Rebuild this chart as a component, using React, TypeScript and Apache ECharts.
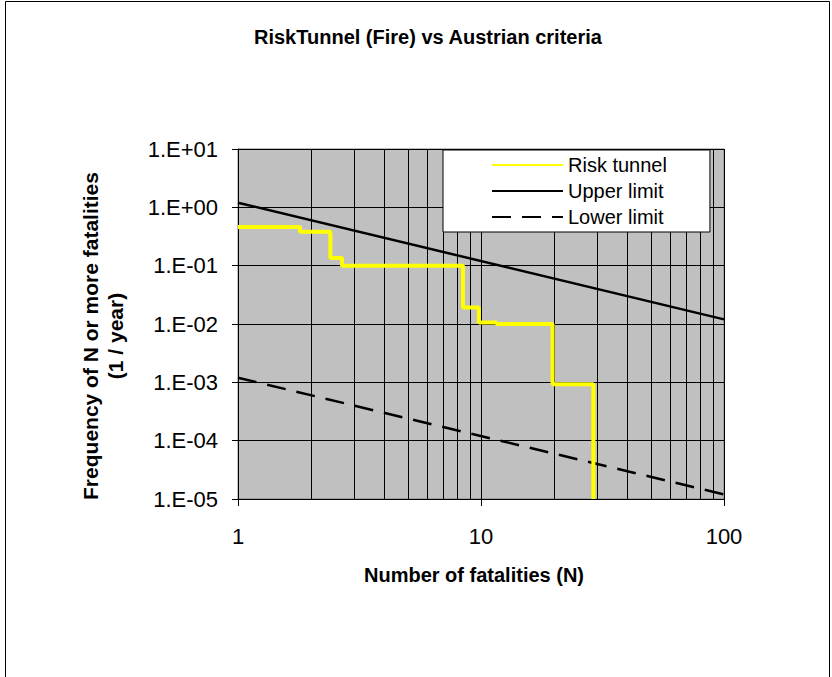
import React, { useEffect, useRef } from "react";
import * as echarts from "echarts";

const titleText = "RiskTunnel (Fire) vs Austrian criteria";
const xAxisName = "Number of fatalities (N)";
const yAxisName = "Frequency of N or more fatalities\n(1 / year)";

const seriesNames = ["Risk tunnel", "Upper limit", "Lower limit"];

// Risk tunnel F-N step curve
const riskN = [1, 1.8, 2.4, 2.68, 8.43, 9.8, 11.6, 19.7, 29];
const riskF = [0.46, 0.38, 0.135, 0.1, 0.0192, 0.0106, 0.01, 0.00093, 0.00001];

// Criteria lines
const limitN = [1, 100];
const upperF = [1.2, 0.012];
const lowerF = [0.0012, 0.000012];

// Minor vertical gridlines
const minorGridN = [2, 3, 4, 5, 6, 7, 8, 9, 20, 30, 40, 50, 60, 70, 80, 90];

const FONT = "'Liberation Sans', Arial, sans-serif";

function fmtExp(v: number): string {
  const e = Math.round(Math.log10(v));
  return "1.E" + (e >= 0 ? "+" : "-") + String(Math.abs(e)).padStart(2, "0");
}

export default function App() {
  const ref = useRef<HTMLDivElement>(null);

  useEffect(() => {
    if (!ref.current) return;
    const chart = echarts.init(ref.current, undefined, { renderer: "svg" });

    const riskData = riskN.map((n, i) => [n, riskF[i]]);
    const upperData = limitN.map((n, i) => [n, upperF[i]]);
    const lowerData = limitN.map((n, i) => [n, lowerF[i]]);

    chart.setOption({
      animation: false,
      backgroundColor: "#ffffff",
      textStyle: { fontFamily: FONT },
      title: {
        text: titleText,
        left: 254,
        top: 27,
        padding: 0,
        textStyle: { fontSize: 20, fontWeight: "bold", color: "#000", fontFamily: FONT },
      },
      graphic: [
        {
          type: "rect",
          shape: { x: 5.5, y: 1.5, width: 824, height: 720 },
          style: { fill: "none", stroke: "#000", lineWidth: 1 },
          silent: true,
          z: 0,
        },
      ],
      legend: {
        data: seriesNames,
        orient: "vertical",
        left: 443,
        top: 150,
        padding: [5, 43, 5, 48],
        itemWidth: 71,
        itemHeight: 20,
        itemGap: 6,
        z: 10,
        backgroundColor: "#ffffff",
        borderColor: "#000",
        borderWidth: 1,
        borderRadius: 0,
        itemStyle: { opacity: 0 },
        textStyle: { fontSize: 20, color: "#000", fontFamily: FONT, lineHeight: 20 },
      },
      grid: {
        left: 238,
        right: 108,
        top: 149,
        bottom: 178,
        show: true,
        backgroundColor: "#C0C0C0",
        borderColor: "#808080",
        borderWidth: 1,
        containLabel: false,
      },
      xAxis: {
        type: "log",
        logBase: 10,
        min: 1,
        max: 100,
        name: xAxisName,
        nameLocation: "middle",
        nameGap: 66,
        nameTextStyle: { fontSize: 20, fontWeight: "bold", color: "#000", padding: [0, 14, 0, 0] },
        axisLine: { show: true, lineStyle: { color: "#000", width: 1 } },
        axisTick: { show: true, inside: false, length: 7, lineStyle: { color: "#000" } },
        axisLabel: { fontSize: 22, color: "#000", margin: 26 },
        splitLine: { show: true, lineStyle: { color: "#000", width: 1 } },
        minorTick: { show: false },
        minorSplitLine: { show: false },
      },
      yAxis: {
        type: "log",
        logBase: 10,
        min: 0.00001,
        max: 10,
        splitNumber: 6,
        name: yAxisName,
        nameLocation: "middle",
        nameRotate: 90,
        nameGap: 110,
        nameTextStyle: {
          fontSize: 21,
          fontWeight: "bold",
          color: "#000",
          lineHeight: 25,
          align: "center",
          padding: [0, 24, 0, 0],
        },
        axisLine: { show: true, lineStyle: { color: "#000", width: 1 } },
        axisTick: { show: true, inside: false, length: 6, lineStyle: { color: "#000" } },
        axisLabel: { fontSize: 22, color: "#000", margin: 20, formatter: fmtExp },
        splitLine: { show: true, lineStyle: { color: "#000", width: 1 } },
      },
      series: [
        {
          name: "minor-grid",
          type: "line",
          data: [],
          silent: true,
          z: 1,
          markLine: {
            silent: true,
            z: 1,
            symbol: ["none", "none"],
            label: { show: false },
            lineStyle: { color: "#000", width: 1, type: "solid" },
            data: minorGridN.map((n) => ({ xAxis: n })),
            animation: false,
          },
        },
        {
          name: seriesNames[1],
          type: "line",
          data: upperData,
          showSymbol: false,
          symbol: "none",
          lineStyle: { color: "#000", width: 2.5 },
          itemStyle: { color: "#000" },
          z: 3,
        },
        {
          name: seriesNames[2],
          type: "line",
          data: lowerData,
          showSymbol: false,
          symbol: "none",
          lineStyle: { color: "#000", width: 2.5, type: [19, 11] },
          itemStyle: { color: "#000" },
          z: 3,
        },
        {
          name: seriesNames[0],
          type: "line",
          step: "end",
          data: riskData,
          showSymbol: false,
          symbol: "none",
          lineStyle: { color: "#FFFF00", width: 4 },
          itemStyle: { color: "#FFFF00" },
          z: 4,
        },
      ],
    });

    return () => chart.dispose();
  }, []);

  return (
    <div
      ref={ref}
      style={{ position: "fixed", left: 0, top: 0, width: 832, height: 677 }}
    />
  );
}
